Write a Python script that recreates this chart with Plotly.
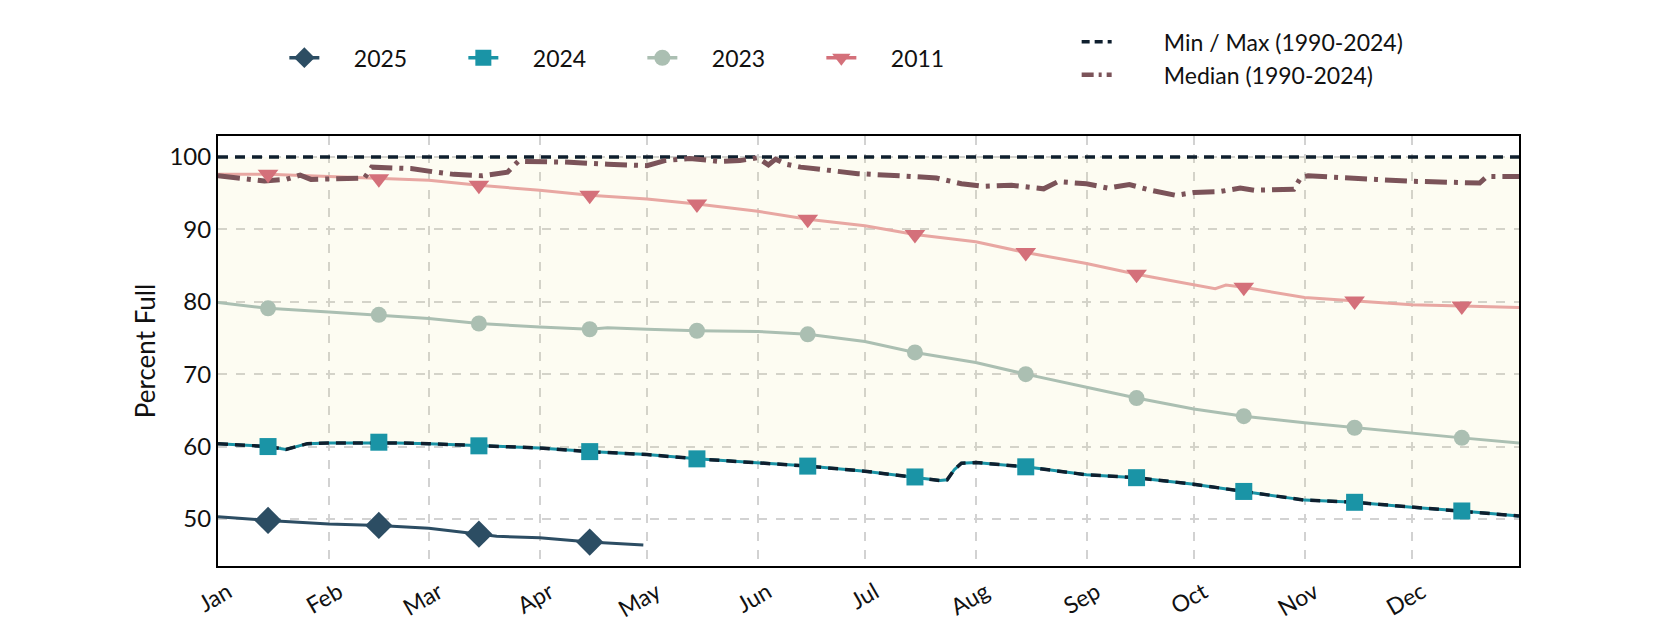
import plotly.graph_objects as go

# Reservoir storage, percent full, by day of year (mm-dd)
dates_2025 = ["01-01", "01-15", "02-01", "02-15", "03-01", "03-15", "03-20", "04-01", "04-15", "04-30"]
pct_2025 = [50.3, 49.8, 49.3, 49.1, 48.7, 47.9, 47.6, 47.4, 46.8, 46.4]

dates_2024 = ["01-01", "01-15", "01-20", "01-26", "02-01", "02-10", "02-15", "02-20", "03-01", "03-15",
              "04-01", "04-15", "05-01", "05-15", "06-01", "06-15", "07-01", "07-15", "07-22", "07-24",
              "07-26", "07-28", "08-01", "08-15", "09-01", "09-15", "10-01", "10-15", "11-01", "11-15",
              "12-01", "12-15", "12-31"]
pct_2024 = [60.4, 60.0, 59.6, 60.4, 60.5, 60.5, 60.6, 60.5, 60.4, 60.1,
            59.8, 59.3, 58.9, 58.3, 57.8, 57.3, 56.6, 55.8, 55.3, 55.4,
            56.8, 57.7, 57.8, 57.2, 56.1, 55.7, 54.8, 53.8, 52.6, 52.3,
            51.6, 51.1, 50.4]

dates_2023 = ["01-01", "01-15", "02-01", "02-15", "03-01", "03-15", "04-01", "04-15", "04-20", "05-01",
              "05-15", "06-01", "06-15", "07-01", "07-15", "08-01", "08-15", "09-01", "09-15", "10-01",
              "10-15", "11-01", "11-15", "12-01", "12-15", "12-31"]
pct_2023 = [79.9, 79.1, 78.6, 78.2, 77.7, 77.0, 76.5, 76.2, 76.4, 76.2,
            76.0, 75.9, 75.5, 74.5, 73.0, 71.6, 70.0, 68.2, 66.7, 65.2,
            64.2, 63.3, 62.6, 61.9, 61.2, 60.5]

dates_2011 = ["01-01", "01-15", "02-01", "02-15", "03-01", "03-15", "04-01", "04-15", "05-01", "05-15",
              "06-01", "06-15", "07-01", "07-15", "08-01", "08-15", "09-01", "09-15", "10-07", "10-10",
              "10-15", "11-01", "11-15", "12-01", "12-15", "12-31"]
pct_2011 = [97.6, 97.6, 97.3, 97.0, 96.8, 96.1, 95.4, 94.7, 94.2, 93.5,
            92.5, 91.4, 90.5, 89.3, 88.3, 86.8, 85.3, 83.8, 81.8, 82.3,
            82.0, 80.6, 80.1, 79.6, 79.4, 79.2]

dates_median = ["01-01", "01-08", "01-14", "01-20", "01-24", "01-27", "02-05", "02-11", "02-13", "02-24",
                "03-03", "03-08", "03-16", "03-23", "03-26", "04-08", "04-20", "05-01", "05-06", "05-13",
                "05-21", "05-27", "06-01", "06-04", "06-06", "06-09", "06-13", "06-29", "07-11", "07-21",
                "07-28", "08-03", "08-11", "08-15", "08-20", "08-24", "09-01", "09-07", "09-13", "09-19",
                "09-26", "10-01", "10-08", "10-14", "10-18", "10-29", "10-31", "11-02", "11-11", "11-21",
                "12-01", "12-15", "12-20", "12-22", "12-31"]
pct_median = [97.4, 97.0, 96.7, 96.9, 97.5, 96.9, 97.0, 97.1, 98.6, 98.4,
              97.9, 97.6, 97.4, 97.9, 99.4, 99.3, 99.0, 98.8, 99.5, 99.8,
              99.4, 99.5, 99.9, 98.9, 99.7, 99.0, 98.6, 97.7, 97.4, 97.1,
              96.3, 95.95, 96.1, 95.8, 95.6, 96.6, 96.3, 95.7, 96.2, 95.4,
              94.7, 95.1, 95.2, 95.7, 95.4, 95.55, 97.2, 97.4, 97.1, 96.9,
              96.65, 96.5, 96.4, 97.3, 97.3]

# min over 1990-2024 follows the 2024 record all year
dates_min = list(dates_2024)
pct_min = list(pct_2024)
dates_max = ["01-01", "12-31"]
pct_max = [100.0, 100.0]

month_ticks = ["01-01", "02-01", "03-01", "04-01", "05-01", "06-01",
               "07-01", "08-01", "09-01", "10-01", "11-01", "12-01"]
month_labels = ["Jan", "Feb", "Mar", "Apr", "May", "Jun",
                "Jul", "Aug", "Sep", "Oct", "Nov", "Dec"]

YEAR = 2025


def to_dates(md):
    return [f"{YEAR}-{d}" for d in md]


def mid_month(dates, vals):
    pts = [(d, v) for d, v in zip(dates, vals) if d.endswith("-15")]
    return to_dates([p[0] for p in pts]), [p[1] for p in pts]


FONT = "Lato"
PAD1 = "\u00a0" * 5  # wider gap between legend handle and label
PAD2 = "\u00a0" * 8
series = [
    # name, dates, values, line colour, marker colour, symbol, size
    ("2011", dates_2011, pct_2011, "#e8a7a2", "#d4707a", "triangle-down", 18),
    ("2023", dates_2023, pct_2023, "#abbfb2", "#abbfb2", "circle", 16),
    ("2024", dates_2024, pct_2024, "#1a94a6", "#1a94a6", "square", 17),
    ("2025", dates_2025, pct_2025, "#2c4d63", "#2c4d63", "diamond", 21),
]

fig = go.Figure()

# envelope between min and max (translucent so the grid shows through)
fig.add_trace(go.Scatter(x=to_dates(dates_max), y=pct_max, mode="lines",
                         line=dict(width=0), showlegend=False, hoverinfo="skip"))
fig.add_trace(go.Scatter(x=to_dates(dates_min), y=pct_min, mode="lines",
                         line=dict(width=0), fill="tonexty", fillcolor="rgba(235,225,125,0.1)",
                         showlegend=False, hoverinfo="skip"))

for name, d, v, lc, mc, sym, sz in series:
    fig.add_trace(go.Scatter(x=to_dates(d), y=v, mode="lines",
                             line=dict(color=lc, width=3), showlegend=False))

fig.add_trace(go.Scatter(x=to_dates(dates_min), y=pct_min, mode="lines",
                         line=dict(color="#0f1f2e", width=3.5, dash="10px,7px"), showlegend=False))
fig.add_trace(go.Scatter(x=to_dates(dates_max), y=pct_max, mode="lines",
                         line=dict(color="#0f1f2e", width=3.5, dash="10px,7px"), showlegend=False))
fig.add_trace(go.Scatter(x=to_dates(dates_median), y=pct_median, mode="lines",
                         line=dict(color="#7b5359", width=5, dash="22px,7px,4px,7px"), showlegend=False))

for name, d, v, lc, mc, sym, sz in series:
    mx, my = mid_month(d, v)
    fig.add_trace(go.Scatter(x=mx, y=my, mode="markers",
                             marker=dict(color=mc, symbol=sym, size=sz), showlegend=False))

# legend entries
for name, d, v, lc, mc, sym, sz in reversed(series):
    fig.add_trace(go.Scatter(x=[None], y=[None], mode="lines+markers", name=PAD1 + name,
                             line=dict(color=mc, width=3.5),
                             marker=dict(color=mc, symbol=sym, size=sz), legend="legend"))
fig.add_trace(go.Scatter(x=[None], y=[None], mode="lines", name=PAD2 + "Min / Max (1990-2024)",
                         line=dict(color="#0f1f2e", width=3.5, dash="8px,5px"),
                         legend="legend2", legendgroup="a"))
fig.add_trace(go.Scatter(x=[None], y=[None], mode="lines", name=PAD2 + "Median (1990-2024)",
                         line=dict(color="#7b5359", width=4.5, dash="12px,5px,3px,5px"),
                         legend="legend2", legendgroup="b"))

fig.update_layout(
    width=1680, height=630,
    margin=dict(l=210, r=169, t=128, b=72),
    paper_bgcolor="white", plot_bgcolor="white",
    font=dict(family=FONT, size=21, color="#111111"),
    legend=dict(orientation="h", x=0.051, y=0.921, yref="container",
                xanchor="left", yanchor="middle",
                traceorder="normal", font=dict(size=23), entrywidth=134,
                bgcolor="rgba(0,0,0,0)"),
    legend2=dict(orientation="v", x=0.66, y=0.92, yref="container",
                 xanchor="left", yanchor="middle",
                 traceorder="normal", font=dict(size=23), tracegroupgap=8,
                 bgcolor="rgba(0,0,0,0)"),
)

fig.update_xaxes(
    range=[f"{YEAR}-01-01", f"{YEAR}-12-31"],
    tickvals=to_dates(month_ticks), ticktext=month_labels, tickangle=-30,
    ticklabelshift=10, ticklabelstandoff=2,
    showgrid=True, gridcolor="#d2d2d2", griddash="dash", gridwidth=1.5,
    showline=True, linecolor="black", linewidth=2, mirror=True, ticks="",
    tickfont=dict(size=23), zeroline=False,
)
fig.update_yaxes(
    range=[43.5, 102.9], tickvals=[50, 60, 70, 80, 90, 100],
    title=dict(text="Percent Full", font=dict(size=26), standoff=6),
    showgrid=True, gridcolor="#d2d2d2", griddash="dash", gridwidth=1.5,
    showline=True, linecolor="black", linewidth=2, mirror=True, ticks="",
    tickfont=dict(size=24), zeroline=False,
)

fig.write_html("out.html")
